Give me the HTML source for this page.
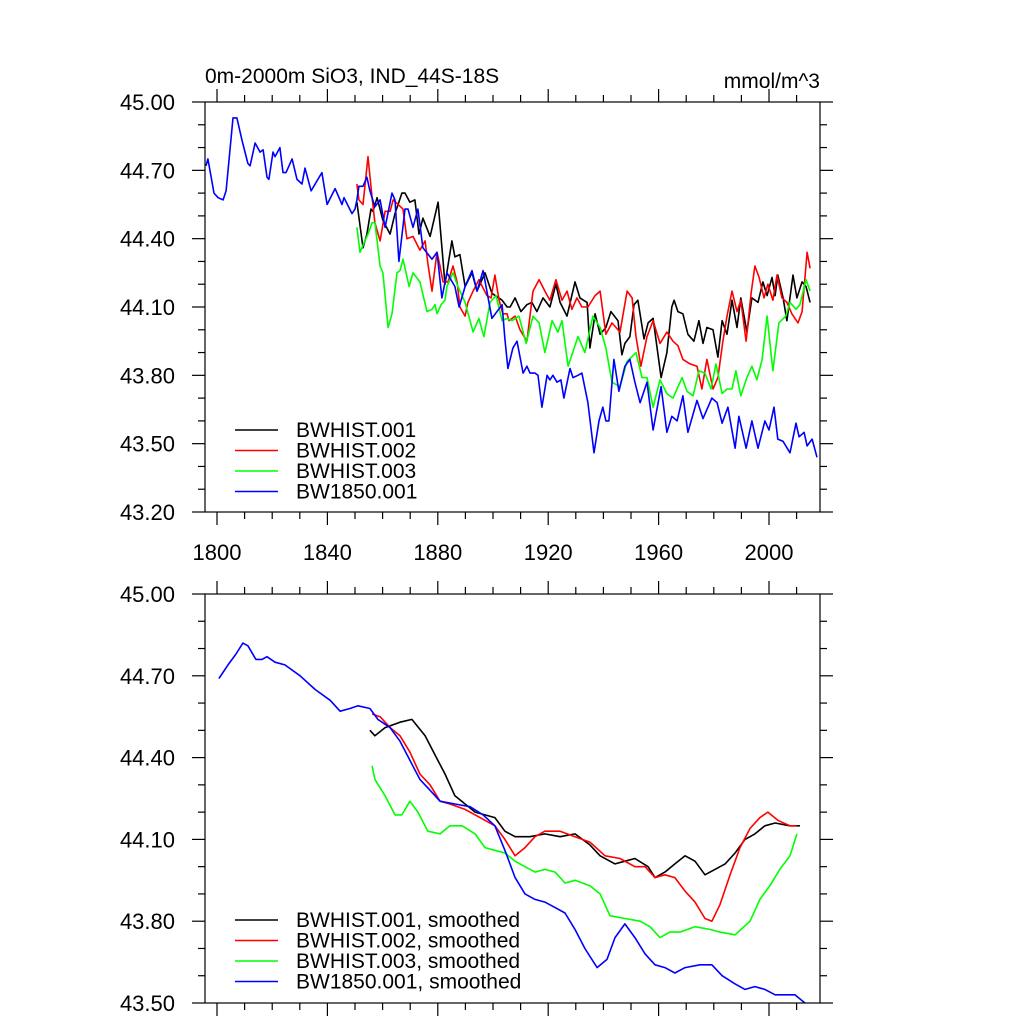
<!DOCTYPE html>
<html><head><meta charset="utf-8"><style>
body{margin:0;background:#fff}
svg text{font-family:"Liberation Sans",sans-serif;fill:#000}
</style></head><body>
<svg id="c" width="1024" height="1024" viewBox="0 0 1024 1024"></svg>
<script>
const xTickYears=[1800,1840,1880,1920,1960,2000];
const topYTicks=[43.2,43.5,43.8,44.1,44.4,44.7,45.0];
const botYTicks=[43.5,43.8,44.1,44.4,44.7,45.0];
const seriesNamesTop=["BWHIST.001","BWHIST.002","BWHIST.003","BW1850.001"];
const seriesNamesBot=["BWHIST.001, smoothed","BWHIST.002, smoothed","BWHIST.003, smoothed","BW1850.001, smoothed"];
const colors=["#000","#f00","#0f0","#00f"];

const blueYears=[1796.0,1796.7,1798.9,1800.4,1802.2,1803.3,1805.8,1807.2,1809.1,1811.2,1812.0,1813.8,1815.6,1816.7,1818.1,1818.8,1820.3,1821.0,1822.8,1823.9,1825.0,1827.2,1829.0,1830.8,1831.9,1834.1,1838.0,1839.9,1842.8,1845.3,1846.0,1848.9,1850.0,1850.7,1851.4,1852.9,1854.3,1855.4,1857.2,1859.1,1860.9,1863.4,1864.5,1865.9,1868.1,1869.2,1871.0,1872.8,1874.6,1877.9,1879.7,1881.5,1883.3,1886.2,1887.7,1889.9,1892.4,1894.2,1896.4,1899.6,1903.3,1904.3,1905.4,1907.2,1908.7,1910.9,1912.3,1913.4,1915.2,1916.3,1917.7,1919.6,1920.6,1921.7,1923.2,1924.6,1925.7,1927.9,1929.0,1930.8,1932.2,1934.4,1936.6,1938.4,1939.8,1940.9,1942.0,1943.8,1945.6,1947.8,1949.6,1951.4,1953.3,1955.8,1958.0,1960.9,1963.0,1964.8,1966.7,1968.8,1970.6,1973.9,1976.1,1979.3,1981.2,1983.0,1985.1,1987.7,1989.1,1991.7,1993.8,1996.0,1998.5,2000.0,2001.8,2003.2,2005.1,2007.6,2009.8,2010.9,2012.7,2013.8,2015.6,2017.4];
const blueVals=[44.72,44.75,44.60,44.58,44.57,44.61,44.93,44.93,44.83,44.73,44.72,44.82,44.78,44.79,44.67,44.66,44.78,44.76,44.80,44.69,44.69,44.75,44.66,44.64,44.71,44.61,44.69,44.55,44.62,44.55,44.58,44.51,44.53,44.57,44.63,44.63,44.67,44.61,44.54,44.57,44.45,44.60,44.57,44.30,44.53,44.53,44.45,44.53,44.36,44.31,44.34,44.14,44.25,44.19,44.10,44.19,44.26,44.17,44.26,44.05,44.11,43.96,43.83,43.92,43.95,43.81,43.84,43.81,43.81,43.80,43.66,43.80,43.78,43.80,43.77,43.78,43.70,43.83,43.79,43.80,43.81,43.68,43.46,43.60,43.66,43.60,43.60,43.87,43.73,43.84,43.87,43.77,43.68,43.77,43.56,43.75,43.55,43.62,43.60,43.71,43.55,43.69,43.61,43.70,43.68,43.59,43.66,43.48,43.62,43.48,43.60,43.48,43.60,43.56,43.66,43.52,43.51,43.46,43.59,43.53,43.55,43.49,43.52,43.44];

const blackYears=[1850.7,1852.9,1854.3,1855.8,1856.5,1858.0,1860.1,1862.7,1864.5,1867.0,1868.1,1869.9,1871.7,1873.2,1874.6,1877.2,1880.1,1882.6,1885.1,1886.2,1888.0,1889.9,1892.4,1894.2,1897.1,1899.6,1903.3,1905.1,1906.2,1908.0,1910.1,1912.3,1914.1,1915.9,1918.1,1920.6,1922.8,1924.3,1926.8,1929.7,1931.5,1934.1,1935.1,1937.0,1938.8,1940.9,1942.7,1945.3,1946.7,1947.8,1949.6,1951.1,1952.5,1954.7,1956.2,1958.0,1960.9,1963.0,1964.8,1965.6,1967.0,1968.8,1970.6,1972.8,1974.6,1976.1,1977.5,1979.7,1981.5,1983.0,1984.8,1986.6,1988.4,1989.8,1992.0,1993.8,1996.0,1997.8,1999.3,2001.1,2002.2,2003.2,2005.1,2006.5,2008.7,2010.1,2012.0,2013.4,2014.9];
const blackVals=[44.56,44.36,44.42,44.53,44.52,44.58,44.48,44.42,44.51,44.60,44.60,44.56,44.57,44.42,44.49,44.41,44.56,44.20,44.39,44.32,44.33,44.19,44.25,44.17,44.25,44.16,44.13,44.10,44.10,44.14,44.08,44.11,44.12,44.08,44.14,44.10,44.20,44.12,44.06,44.21,44.14,44.12,43.92,44.07,43.98,44.01,44.08,44.04,43.89,43.94,43.97,44.11,44.13,43.96,44.03,44.05,43.79,43.90,44.10,44.13,44.08,44.07,43.98,43.95,44.04,43.94,44.01,44.00,43.88,44.04,43.98,44.13,44.01,44.14,43.99,44.14,44.12,44.21,44.15,44.23,44.15,44.24,44.14,44.04,44.24,44.14,44.21,44.19,44.12];

const redYears=[1850.7,1851.4,1852.9,1854.7,1856.2,1857.2,1859.1,1860.9,1862.7,1863.8,1865.6,1867.4,1868.8,1871.0,1873.5,1875.4,1876.4,1877.9,1879.7,1880.8,1881.9,1883.7,1885.5,1887.0,1888.0,1889.9,1890.9,1892.8,1894.9,1897.8,1899.3,1900.7,1902.2,1903.6,1905.1,1905.8,1908.0,1909.8,1912.3,1914.5,1916.7,1918.8,1920.6,1922.8,1925.0,1926.8,1928.6,1930.4,1932.2,1934.4,1937.0,1938.8,1940.9,1943.1,1946.0,1948.6,1950.4,1951.8,1953.6,1955.8,1958.0,1960.5,1963.0,1965.2,1967.0,1968.8,1971.4,1973.9,1975.7,1977.5,1979.7,1981.5,1983.3,1984.8,1986.6,1988.4,1989.8,1991.7,1993.5,1994.9,1996.4,1998.2,1999.6,2001.4,2002.9,2004.7,2006.5,2008.3,2010.5,2012.0,2013.8,2014.9];
const redVals=[44.64,44.57,44.55,44.76,44.58,44.47,44.39,44.52,44.52,44.57,44.55,44.53,44.40,44.41,44.35,44.39,44.29,44.17,44.34,44.28,44.21,44.21,44.28,44.21,44.10,44.06,44.12,44.17,44.22,44.15,44.14,44.24,44.13,44.07,44.07,44.04,44.06,44.00,43.95,44.17,44.22,44.17,44.13,44.22,44.13,44.17,44.09,44.14,44.10,44.10,44.15,44.17,43.98,44.03,43.99,44.17,44.14,43.97,43.84,43.97,44.04,43.94,43.99,43.95,43.93,43.87,43.85,43.84,43.74,43.87,43.74,43.79,43.95,44.06,44.17,44.08,44.13,43.95,44.16,44.28,44.23,44.14,44.20,44.13,44.24,44.14,44.12,44.07,44.03,44.08,44.34,44.27];

const greenYears=[1850.7,1851.8,1853.6,1854.7,1856.2,1857.2,1859.1,1860.1,1862.0,1863.4,1865.2,1866.3,1867.4,1869.6,1871.0,1873.5,1876.1,1877.9,1879.0,1879.7,1881.2,1882.6,1883.3,1885.5,1887.3,1889.9,1892.8,1894.9,1896.7,1898.9,1901.1,1903.3,1905.1,1906.9,1909.4,1912.0,1914.5,1916.7,1918.8,1921.4,1923.5,1925.0,1927.2,1930.8,1933.3,1936.2,1938.8,1940.9,1943.1,1946.0,1948.5,1951.8,1954.0,1955.8,1958.0,1960.5,1963.0,1965.2,1968.5,1970.3,1972.5,1974.6,1976.8,1979.0,1980.8,1983.0,1984.8,1986.6,1988.0,1989.8,1992.0,1993.8,1995.6,1997.5,1999.3,2001.4,2003.6,2006.1,2007.6,2009.8,2011.2,2013.4,2014.9];
const greenVals=[44.45,44.34,44.39,44.42,44.47,44.47,44.28,44.25,44.01,44.07,44.25,44.26,44.31,44.19,44.25,44.21,44.08,44.09,44.11,44.07,44.11,44.13,44.19,44.25,44.19,44.12,43.99,44.05,43.97,44.12,44.15,44.04,44.05,44.04,44.06,43.94,44.06,44.03,43.90,44.04,43.99,44.04,43.84,43.97,43.90,44.06,44.01,43.92,43.77,43.75,43.86,43.90,43.79,43.79,43.66,43.78,43.72,43.70,43.79,43.73,43.71,43.82,43.81,43.74,43.85,43.72,43.74,43.74,43.82,43.71,43.79,43.84,43.78,43.87,44.06,43.82,44.03,44.06,44.12,44.09,44.11,44.22,44.17];

const sBlackYears=[1855.4,1857.2,1860.9,1866.3,1870.6,1875.4,1879.0,1882.6,1886.2,1889.9,1893.5,1897.1,1900.7,1904.3,1908.0,1913.4,1918.8,1924.3,1929.7,1935.1,1938.8,1944.2,1947.8,1951.4,1956.2,1958.7,1962.3,1965.9,1969.6,1973.2,1976.8,1980.4,1984.1,1987.7,1991.3,1994.9,1998.5,2002.2,2007.6,2011.2];
const sBlackVals=[44.50,44.48,44.51,44.53,44.54,44.48,44.41,44.34,44.26,44.23,44.20,44.19,44.18,44.13,44.11,44.11,44.12,44.11,44.12,44.08,44.04,44.01,44.02,44.03,44.00,43.96,43.98,44.01,44.04,44.02,43.97,43.99,44.01,44.05,44.10,44.12,44.15,44.16,44.15,44.15];
const sRedYears=[1856.2,1859.1,1862.7,1866.3,1869.9,1873.5,1877.2,1880.8,1884.4,1889.9,1895.3,1900.7,1904.3,1908.0,1911.6,1915.2,1918.8,1924.3,1929.7,1935.1,1940.6,1946.0,1951.4,1955.1,1958.7,1962.3,1965.9,1969.6,1973.2,1976.8,1979.3,1982.2,1985.9,1989.5,1993.1,1996.7,1999.6,2003.2,2007.6,2010.1];
const sRedVals=[44.56,44.55,44.51,44.48,44.42,44.34,44.30,44.24,44.23,44.21,44.18,44.15,44.10,44.04,44.07,44.11,44.13,44.13,44.11,44.09,44.04,44.03,44.00,44.00,43.96,43.97,43.96,43.91,43.87,43.81,43.80,43.86,43.97,44.07,44.14,44.18,44.20,44.17,44.15,44.15];
const sGreenYears=[1856.2,1857.2,1860.9,1864.5,1867.0,1869.9,1872.8,1876.4,1880.8,1884.4,1888.8,1893.5,1897.1,1900.7,1904.3,1908.0,1911.6,1915.2,1918.8,1922.5,1926.1,1929.7,1935.1,1938.8,1942.4,1947.8,1953.3,1956.9,1960.5,1964.1,1967.7,1973.2,1978.6,1982.2,1987.7,1993.1,1996.7,2000.3,2003.9,2007.6,2010.1];
const sGreenVals=[44.37,44.32,44.26,44.19,44.19,44.24,44.20,44.13,44.12,44.15,44.15,44.12,44.07,44.06,44.05,44.02,44.00,43.98,43.99,43.98,43.94,43.95,43.93,43.90,43.82,43.81,43.80,43.78,43.74,43.76,43.76,43.78,43.77,43.76,43.75,43.80,43.88,43.93,43.99,44.04,44.12];
const sBlueYears=[1800.7,1804.0,1806.9,1809.4,1811.2,1814.1,1816.3,1818.1,1821.0,1824.6,1830.1,1835.5,1841.0,1844.6,1848.2,1851.1,1855.4,1858.3,1862.7,1866.3,1869.9,1873.5,1877.2,1880.8,1886.2,1891.7,1896.4,1900.7,1904.3,1908.0,1911.6,1915.2,1918.8,1922.5,1926.1,1929.7,1933.3,1937.7,1941.3,1944.2,1947.8,1951.4,1955.1,1958.7,1962.3,1965.9,1969.6,1975.0,1979.3,1983.0,1987.7,1991.3,1994.9,1998.5,2002.2,2005.8,2009.4,2013.0];
const sBlueVals=[44.69,44.74,44.78,44.82,44.81,44.76,44.76,44.77,44.75,44.74,44.70,44.65,44.61,44.57,44.58,44.59,44.58,44.54,44.51,44.46,44.39,44.32,44.28,44.24,44.23,44.22,44.19,44.15,44.06,43.96,43.90,43.88,43.87,43.85,43.83,43.77,43.70,43.63,43.66,43.74,43.79,43.74,43.68,43.64,43.63,43.61,43.63,43.64,43.64,43.60,43.57,43.55,43.56,43.55,43.53,43.53,43.53,43.50];

const NS="http://www.w3.org/2000/svg";
const svg=document.getElementById('c');
function mk(tag,attrs,parent){const e=document.createElementNS(NS,tag);for(const k in attrs)e.setAttribute(k,attrs[k]);(parent||svg).appendChild(e);return e;}
const X0=205,X1=820;
function xs(yr){return 217+(yr-1800)*2.76;}

function panel(name,top,bottom,vmin,vmax,yticks,series,legendNames,legY){
  const g=mk('g',{});
  
  
  const ys=v=>bottom-(v-vmin)/(vmax-vmin)*(bottom-top);
  const cp=mk('clipPath',{id:name+'-clip'},g);
  mk('rect',{x:X0,y:top,width:X1-X0,height:bottom-top},cp);
  series.forEach((s,i)=>{
    const d=s[0].map((yr,j)=>(j?'L':'M')+xs(yr).toFixed(1)+','+ys(s[1][j]).toFixed(1)).join('');
    const p=mk('path',{d:d,fill:'none',stroke:colors[i],'stroke-width':1.6,'stroke-linejoin':'round','clip-path':'url(#'+name+'-clip)'},g);
    
    
  });
  const fr=mk('rect',{x:X0,y:top,width:X1-X0,height:bottom-top,fill:'none',stroke:'#000','stroke-width':1.2},g);
  
  
  for(let v=vmin;v<=vmax+1e-6;v+=0.1){
    const y=ys(v);const maj=yticks.some(t=>Math.abs(t-v)<1e-6);const L=maj?13:7;
    mk('line',{x1:X0-L,y1:y,x2:X0,y2:y,stroke:'#000','stroke-width':1.2},g);
    mk('line',{x1:X1,y1:y,x2:X1+L,y2:y,stroke:'#000','stroke-width':1.2},g);
  }
  yticks.forEach(v=>{
    const t=mk('text',{x:175,y:ys(v)+8,'text-anchor':'end','font-size':22},g);
    t.textContent=v.toFixed(2);
    
    
  });
  for(let yr=1800;yr<=2010;yr+=10){
    const x=xs(yr);const L=(yr%40===0)?13:7;
    mk('line',{x1:x,y1:bottom,x2:x,y2:bottom+L,stroke:'#000','stroke-width':1.2},g);
    mk('line',{x1:x,y1:top-L,x2:x,y2:top,stroke:'#000','stroke-width':1.2},g);
  }
  legendNames.forEach((n,i)=>{
    const y=legY+i*20.5;
    mk('line',{x1:235,y1:y,x2:278,y2:y,stroke:colors[i],'stroke-width':1.6},g);
    const t=mk('text',{x:296,y:y+7,'font-size':21},g);
    t.textContent=n;
    
    
  });
}
panel('top-panel',102,512,43.2,45.0,topYTicks,[[blackYears,blackVals],[redYears,redVals],[greenYears,greenVals],[blueYears,blueVals]],seriesNamesTop,430);
panel('bottom-panel',594,1003,43.5,45.0,botYTicks,[[sBlackYears,sBlackVals],[sRedYears,sRedVals],[sGreenYears,sGreenVals],[sBlueYears,sBlueVals]],seriesNamesBot,920);
xTickYears.forEach(yr=>{
  const t=mk('text',{x:xs(yr),y:560,'text-anchor':'middle','font-size':22});
  t.textContent=yr;
  
  
});
const ti=mk('text',{x:205,y:83,'font-size':21});
ti.textContent='0m-2000m SiO3, IND_44S-18S';


const un=mk('text',{x:820,y:88,'font-size':21,'text-anchor':'end'});
un.textContent='mmol/m^3';


</script>
</body></html>
